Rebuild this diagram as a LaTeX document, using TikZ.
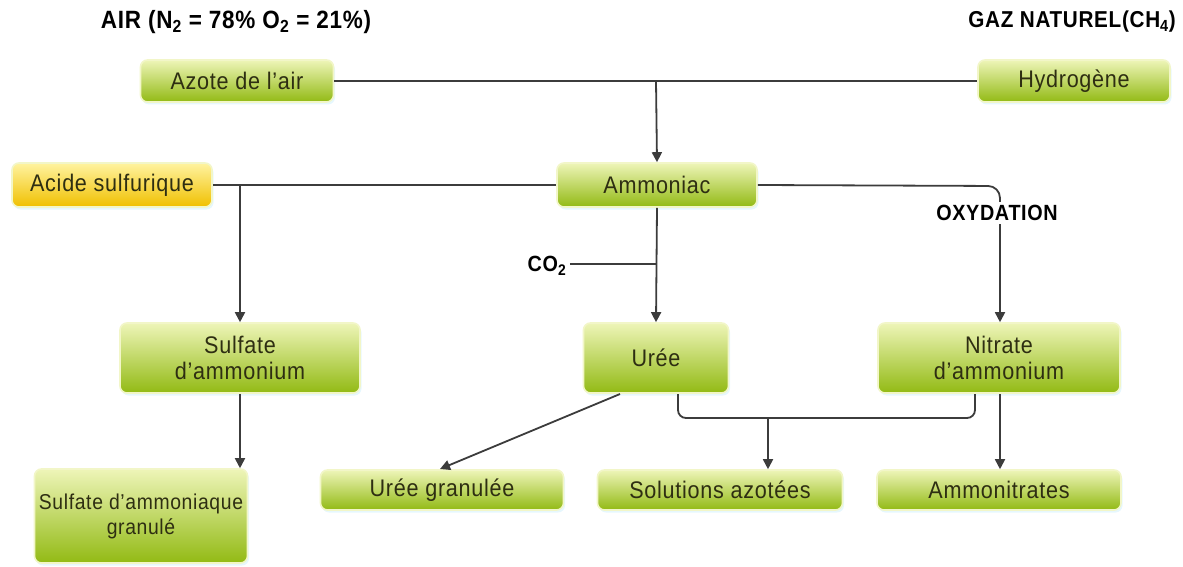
\documentclass[tikz,border=0pt]{standalone}
\usepackage{fontspec}
\setmainfont{Liberation Sans}[FakeStretch=0.9, LetterSpace=3]
\usetikzlibrary{arrows.meta,shadows}
\definecolor{gtop}{HTML}{EEF5B8}
\definecolor{gbot}{HTML}{92BA14}
\definecolor{ytop}{HTML}{FFF3A0}
\definecolor{ybot}{HTML}{F0C000}
\definecolor{edge}{HTML}{F2F6C8}
\definecolor{txt}{HTML}{2E2E12}
\definecolor{ln}{HTML}{3C3C3C}
\tikzset{
  box/.style={rounded corners=7pt, draw=edge, line width=1.6pt,
    top color=gtop, bottom color=gbot, text=txt, align=center,
    font=\fontsize{24}{26}\selectfont, inner sep=2pt,
    drop shadow={fill=cyan!12, shadow xshift=1.5pt, shadow yshift=-2.5pt, opacity=0.8}},
  ybox/.style={box, top color=ytop, bottom color=ybot},
  ttl/.style={font=\fontsize{25}{26}\selectfont\bfseries, text=black},
  lbl/.style={font=\fontsize{22}{23}\selectfont\bfseries, text=black},
  conn/.style={draw=ln, line width=1.8pt},
  arr/.style={conn, -{Triangle[width=10pt,length=10pt]}},
}
\begin{document}
\begin{tikzpicture}[x=1pt,y=-1pt]
\useasboundingbox (0,0) rectangle (1183,567);
% titles
\node[ttl] (tair) at (236,22) {AIR (N\textsubscript{2} = 78\% O\textsubscript{2} = 21\%)};
\node[ttl, font=\fontsize{23}{24}\selectfont\bfseries] (tgaz) at (1072,22) {GAZ NATUREL(CH\textsubscript{4})};
% nodes
\node[box, minimum width=193pt, minimum height=42pt] (azote) at (237,81) {Azote de l'air};
\node[box, minimum width=192pt, minimum height=42pt] (hydro) at (1074,81) {Hydrogène};
\node[box, minimum width=200pt, minimum height=44pt] (ammo) at (657,185) {Ammoniac};
\node[ybox, minimum width=200pt, minimum height=44pt] (acide) at (112,185) {Acide sulfurique};
\node[box, minimum width=240pt, minimum height=70pt] (sulf) at (240,358) {Sulfate\\d'ammonium};
\node[box, minimum width=145pt, minimum height=70pt] (uree) at (656,358) {Urée};
\node[box, minimum width=242pt, minimum height=70pt] (nitr) at (999,358) {Nitrate\\d'ammonium};
\node[box, minimum width=213pt, minimum height=94pt, font=\fontsize{21.5}{25}\selectfont] (sag) at (141,516) {Sulfate d'ammoniaque\\granulé};
\node[box, minimum width=243pt, minimum height=40pt] (ugr) at (442,490) {Urée granulée};
\node[box, minimum width=245pt, minimum height=40pt] (sol) at (720,490) {Solutions azotées};
\node[box, minimum width=244pt, minimum height=40pt] (amn) at (999,490) {Ammonitrates};
% connectors
\coordinate (j1) at (656,81);
\draw[conn] (azote.east) -- (hydro.west);
\draw[arr] (j1) -- (ammo.north);
\coordinate (j2) at (240,186);
\draw[conn] (acide.east) -- (ammo.west);
\draw[arr] (j2) -- (sulf.north);
\draw[arr, rounded corners=12pt] (ammo.east) -- (1000,186) -- (nitr.north -| 1000,0);
\draw[arr] (ammo.south) -- (uree.north);
\coordinate (j3) at (656,264);
\node[lbl] (co2) at (547,266) {CO\textsubscript{2}};
\draw[conn] (co2.east |- j3) -- (j3);
\draw[arr] (sulf.south) -- (sag.north -| sulf.south);
\draw[arr] (620,394) -- (440,469);
\draw[conn, rounded corners=8pt] (678,394) -- (678,418) -- (975,418) -- (975,394);
\coordinate (j4) at (768,418);
\draw[arr] (j4) -- (sol.north -| j4);
\draw[arr] (1000,394) -- (amn.north -| 1000,0);
% label over the line
\node[lbl, fill=white, inner sep=3pt] (oxy) at (997,213) {OXYDATION};
\end{tikzpicture}
\end{document}
